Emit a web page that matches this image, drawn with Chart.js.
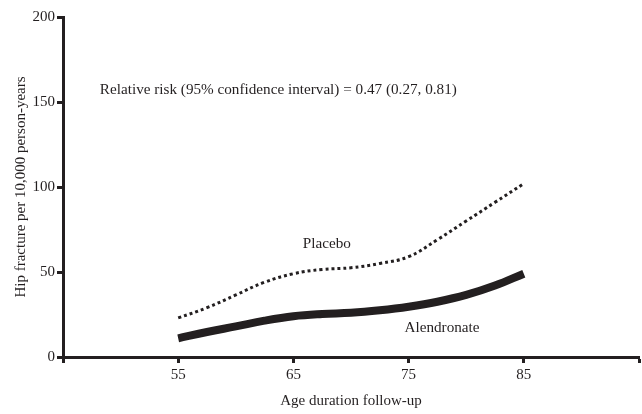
<!DOCTYPE html>
<html>
<head>
<meta charset="utf-8">
<script src="https://cdn.jsdelivr.net/npm/chart.js@4"></script>
<style>
  html, body { margin: 0; padding: 0; background: #fff; }
  #wrap { width: 642px; height: 414px; }
</style>
</head>
<body>
<div id="wrap"><canvas id="hipChart" width="642" height="414"></canvas></div>
<script>
// age points and rates (per 10,000 person-years)
const ages = [55, 57.5, 60, 62.5, 65, 67.5, 70, 72.5, 75, 77.5, 80, 82.5, 85];
const placebo = [23, 29, 36.5, 44, 49, 51.5, 52.5, 55, 59, 69, 80, 91, 102];
const alendronate = [11, 14.7, 18, 21.4, 24, 25.3, 26, 27.5, 29.6, 32.5, 36.5, 42, 49];

const xTicks = [45, 55, 65, 75, 85, 95];
const xLabelled = [55, 65, 75, 85];
const yTicks = [0, 50, 100, 150, 200];

const ink = "#231f20";
const serif = "'Liberation Serif', 'Times New Roman', serif";

// text labels placed in data coordinates
const notes = [
  { text: "Relative risk (95% confidence interval) = 0.47 (0.27, 0.81)", x: 48.2, y: 157, align: "left" },
  { text: "Placebo", x: 67.9, y: 66.5, align: "center" },
  { text: "Alendronate", x: 77.9, y: 17, align: "center" },
];

const notesPlugin = {
  id: "notes",
  afterDatasetsDraw(chart) {
    const { ctx, scales } = chart;
    ctx.save();
    ctx.fillStyle = ink;
    ctx.font = "15.2px " + serif;
    ctx.textBaseline = "middle";
    notes.forEach((n) => {
      ctx.textAlign = n.align;
      ctx.fillText(n.text, scales.x.getPixelForValue(n.x), scales.y.getPixelForValue(n.y));
    });
    ctx.restore();
  },
};

const ctx = document.getElementById("hipChart").getContext("2d");

new Chart(ctx, {
  type: "line",
  data: {
    datasets: [
      {
        label: "Placebo",
        data: ages.map((a, i) => ({ x: a, y: placebo[i] })),
        borderColor: ink,
        borderWidth: 3,
        borderDash: [3, 3],
        pointRadius: 0,
        tension: 0.4,
      },
      {
        label: "Alendronate",
        data: ages.map((a, i) => ({ x: a, y: alendronate[i] })),
        borderColor: ink,
        borderWidth: 8,
        pointRadius: 0,
        tension: 0.4,
      },
    ],
  },
  options: {
    responsive: false,
    animation: false,
    layout: { padding: { top: 17, right: 2, left: 0, bottom: 0 } },
    plugins: {
      legend: { display: false },
      tooltip: { enabled: false },
    },
    scales: {
      x: {
        type: "linear",
        min: 45,
        max: 95,
        afterBuildTicks: (scale) => {
          scale.ticks = xTicks.map((v) => ({ value: v }));
        },
        afterFit: (scale) => {
          scale.height = 57;
        },
        ticks: {
          color: ink,
          font: { family: serif, size: 15 },
          padding: 3,
          maxRotation: 0,
          autoSkip: false,
          callback: (v) => (xLabelled.includes(v) ? String(v) : ""),
        },
        grid: {
          drawOnChartArea: false,
          tickLength: 6,
          tickWidth: 3,
          tickColor: ink,
        },
        border: { color: ink, width: 3 },
        title: {
          display: true,
          text: "Age duration follow-up",
          color: ink,
          font: { family: serif, size: 15 },
          padding: { top: 4 },
        },
      },
      y: {
        min: 0,
        max: 200,
        afterBuildTicks: (scale) => {
          scale.ticks = yTicks.map((v) => ({ value: v }));
        },
        afterFit: (scale) => {
          scale.width = 63;
        },
        ticks: {
          color: ink,
          font: { family: serif, size: 15 },
          padding: 2,
        },
        grid: {
          drawOnChartArea: false,
          tickLength: 6,
          tickWidth: 3,
          tickColor: ink,
        },
        border: { color: ink, width: 3 },
        title: {
          display: true,
          text: "Hip fracture per 10,000 person-years",
          color: ink,
          font: { family: serif, size: 15 },
          padding: { top: 12, bottom: 0 },
        },
      },
    },
  },
  plugins: [notesPlugin],
});
</script>
</body>
</html>
